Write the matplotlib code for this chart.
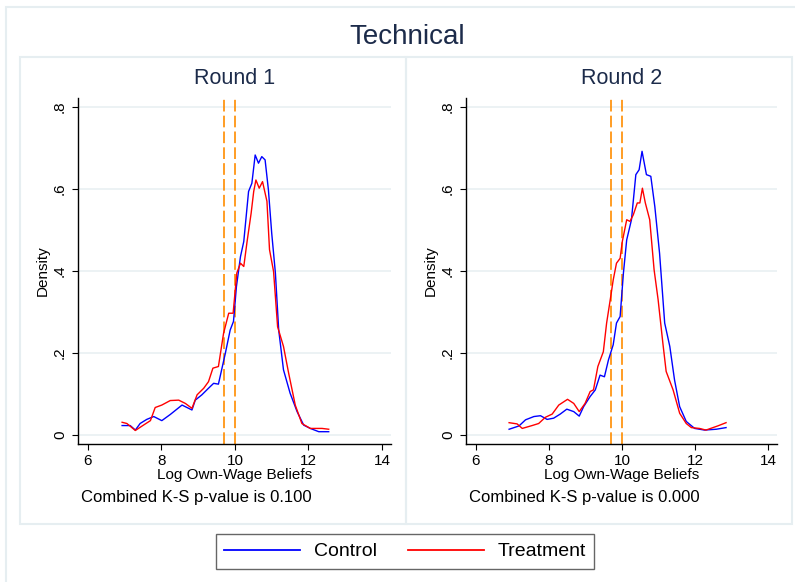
import matplotlib.pyplot as plt
from matplotlib.patches import Rectangle

plt.rcParams["font.family"] = ["Liberation Sans", "DejaVu Sans"]

# Round 1 kernel densities
r1_ctrl_x = [6.93, 7.15, 7.29, 7.42, 7.60, 7.79, 8.01, 8.24, 8.56, 8.83, 8.92, 9.10, 9.28,
             9.42, 9.55, 9.74, 9.87, 9.96, 10.04, 10.15, 10.24, 10.37, 10.46, 10.55, 10.64,
             10.73, 10.82, 10.91, 11.00, 11.10, 11.19, 11.32, 11.50, 11.69, 11.87, 12.05,
             12.28, 12.55]
r1_ctrl_y = [0.023, 0.023, 0.012, 0.028, 0.038, 0.045, 0.035, 0.050, 0.073, 0.061, 0.085,
             0.098, 0.114, 0.126, 0.124, 0.200, 0.256, 0.277, 0.362, 0.435, 0.472, 0.594,
             0.614, 0.683, 0.663, 0.679, 0.671, 0.598, 0.492, 0.395, 0.256, 0.159, 0.102,
             0.057, 0.024, 0.016, 0.008, 0.008]
r1_treat_x = [6.93, 7.06, 7.29, 7.51, 7.70, 7.83, 8.01, 8.24, 8.47, 8.65, 8.83, 8.97, 9.15,
              9.28, 9.40, 9.55, 9.69, 9.83, 9.95, 10.05, 10.15, 10.24, 10.33, 10.44, 10.51,
              10.57, 10.66, 10.75, 10.87, 10.94, 11.05, 11.16, 11.32, 11.46, 11.64, 11.82,
              12.05, 12.37, 12.55]
r1_treat_y = [0.031, 0.028, 0.011, 0.024, 0.035, 0.067, 0.073, 0.084, 0.085, 0.077, 0.065,
              0.098, 0.114, 0.130, 0.163, 0.167, 0.248, 0.297, 0.297, 0.395, 0.419, 0.411,
              0.472, 0.541, 0.594, 0.622, 0.602, 0.618, 0.570, 0.452, 0.399, 0.264, 0.216,
              0.151, 0.073, 0.028, 0.016, 0.016, 0.014]

# Round 2
r2_ctrl_x = [6.91, 7.18, 7.36, 7.59, 7.77, 7.95, 8.13, 8.31, 8.49, 8.68, 8.83, 8.95, 9.13,
             9.27, 9.40, 9.52, 9.63, 9.76, 9.85, 9.95, 10.04, 10.13, 10.26, 10.38, 10.47,
             10.55, 10.67, 10.79, 10.90, 11.03, 11.17, 11.31, 11.44, 11.58, 11.76, 11.99,
             12.26, 12.58, 12.85]
r2_ctrl_y = [0.014, 0.022, 0.037, 0.045, 0.047, 0.038, 0.041, 0.051, 0.063, 0.057, 0.046,
             0.069, 0.094, 0.110, 0.146, 0.142, 0.183, 0.220, 0.273, 0.289, 0.395, 0.476,
             0.525, 0.635, 0.647, 0.692, 0.635, 0.631, 0.557, 0.443, 0.273, 0.216, 0.134,
             0.069, 0.033, 0.016, 0.012, 0.014, 0.018]
r2_treat_x = [6.91, 7.13, 7.27, 7.54, 7.72, 7.90, 8.09, 8.27, 8.51, 8.68, 8.83, 8.99, 9.13,
              9.22, 9.34, 9.49, 9.58, 9.70, 9.76, 9.85, 9.95, 10.01, 10.13, 10.22, 10.31,
              10.42, 10.49, 10.56, 10.64, 10.76, 10.88, 10.99, 11.12, 11.21, 11.40, 11.58,
              11.76, 11.90, 12.12, 12.30, 12.62, 12.85]
r2_treat_y = [0.030, 0.027, 0.016, 0.023, 0.028, 0.043, 0.051, 0.073, 0.087, 0.077, 0.057,
              0.077, 0.106, 0.110, 0.167, 0.203, 0.273, 0.342, 0.378, 0.419, 0.431, 0.472,
              0.525, 0.521, 0.537, 0.566, 0.566, 0.602, 0.566, 0.525, 0.403, 0.330, 0.224,
              0.155, 0.110, 0.053, 0.028, 0.018, 0.016, 0.012, 0.022, 0.030]

cutoffs = [9.7, 10.0]
rounds = ["Round 1", "Round 2"]
pvalues = ["0.100", "0.000"]
xticks = [6, 8, 10, 12, 14]
yticks = [0, 0.2, 0.4, 0.6, 0.8]
ytick_labels = ["0", ".2", ".4", ".6", ".8"]

W, H = 795, 582
fig = plt.figure(figsize=(W / 100, H / 100), dpi=100)
fig.patch.set_facecolor("white")

border = "#e6eef1"
# outer graph region and the two panel boxes
fig.patches.append(Rectangle((6 / W, -0.01), 1.0, 1 - 7 / H + 0.01, transform=fig.transFigure,
                             fill=False, edgecolor=border, lw=1.5))
for x0, x1 in [(20, 406), (406, 792)]:
    fig.patches.append(Rectangle((x0 / W, 1 - 524 / H), (x1 - x0) / W, (524 - 57) / H,
                                 transform=fig.transFigure, fill=False, edgecolor=border, lw=1.5))

fig.text(407 / W, 1 - 37 / H, "Technical", ha="center", va="center", fontsize=20, color="#1c2b4a")

panels = [
    (r1_ctrl_x, r1_ctrl_y, r1_treat_x, r1_treat_y),
    (r2_ctrl_x, r2_ctrl_y, r2_treat_x, r2_treat_y),
]
axes_pos = [[78 / W, 1 - 444 / H, 313 / W, 346 / H],
            [466 / W, 1 - 444 / H, 311 / W, 346 / H]]

for i, (cx, cy, tx, ty) in enumerate(panels):
    ax = fig.add_axes(axes_pos[i])
    ax.set_facecolor("white")
    for y in yticks:
        ax.axhline(y, color="#eaf1f3", lw=1.3, zorder=0)
    for c in cutoffs:
        ax.axvline(c, color="#ff8c00", lw=1.2, dashes=(7, 2.5), zorder=1)
    ax.plot(cx, cy, color="#0000ff", lw=1.0, label="Control", zorder=3)
    ax.plot(tx, ty, color="#ff0000", lw=1.0, label="Treatment", zorder=3)

    ax.set_xlim(5.73, 14.245)
    ax.set_ylim(-0.022, 0.822)
    ax.set_xticks(xticks)
    ax.set_yticks(yticks)
    ax.set_yticklabels(ytick_labels, rotation=90, va="center")
    ax.tick_params(axis="both", direction="out", length=4, width=0.8, labelsize=11, color="black")
    ax.tick_params(axis="y", pad=4)
    ax.tick_params(axis="x", pad=3)
    for s in ["top", "right"]:
        ax.spines[s].set_visible(False)
    for s in ["left", "bottom"]:
        ax.spines[s].set_linewidth(1.0)

    ax.set_title(rounds[i], fontsize=15.5, color="#1c2b4a", pad=10)
    ax.set_xlabel("Log Own-Wage Beliefs", fontsize=11, labelpad=0)
    ax.set_ylabel("Density", fontsize=11, labelpad=2)
    ax.text(0.01, -0.155, "Combined K-S p-value is " + pvalues[i], transform=ax.transAxes,
            ha="left", va="center", fontsize=12)
    if i == 0:
        handles, labels = ax.get_legend_handles_labels()

leg = fig.legend(handles, labels, loc="center", bbox_to_anchor=(405 / W, 1 - 551.5 / H), ncol=2,
                 fontsize=14, frameon=True, fancybox=False, edgecolor="#404040",
                 handlelength=3.9, handletextpad=0.7, columnspacing=1.6, borderpad=0.45)
leg.get_frame().set_linewidth(1.0)
for line in leg.get_lines():
    line.set_linewidth(1.3)

fig.savefig("out.png", dpi=100)
